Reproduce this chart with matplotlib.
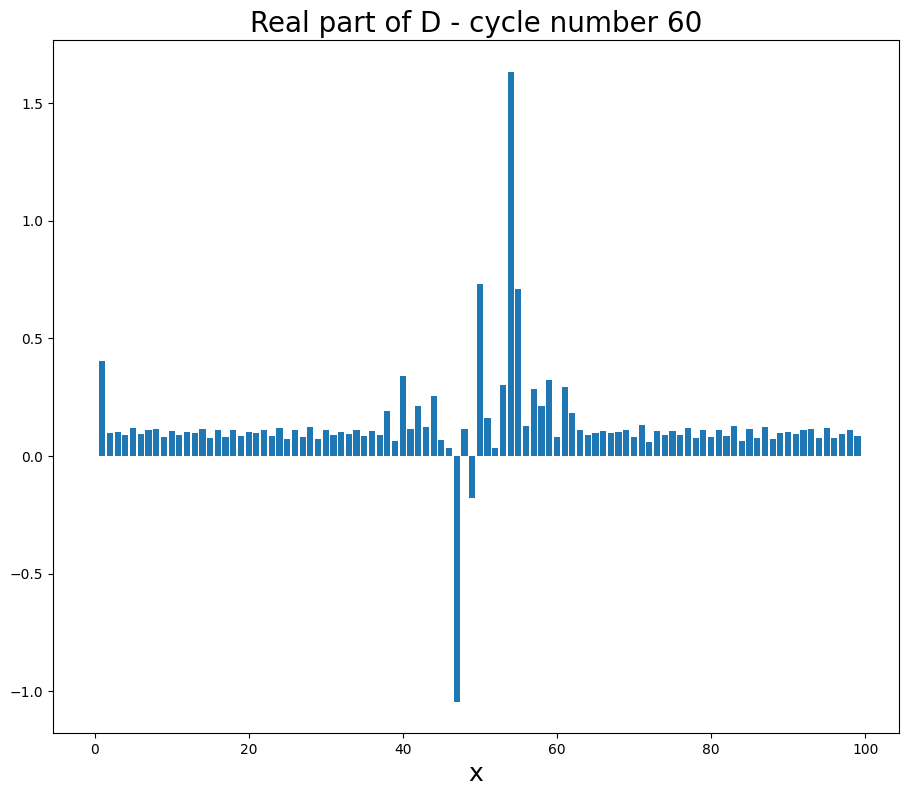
import numpy as np
import matplotlib
matplotlib.use("Agg")
import matplotlib.pyplot as plt

# indices 0..99 (index 0 is zero)
x = np.arange(0, 100)

# real part of D
d_real = [
    0.0,
    0.404, 0.098, 0.102, 0.089, 0.119, 0.094, 0.111, 0.113, 0.081, 0.106,
    0.089, 0.102, 0.098, 0.113, 0.077, 0.111, 0.081, 0.111, 0.085, 0.102,
    0.098, 0.111, 0.085, 0.119, 0.072, 0.111, 0.081, 0.123, 0.072, 0.111,
    0.089, 0.102, 0.094, 0.111, 0.085, 0.106, 0.089, 0.191, 0.064, 0.340,
    0.115, 0.213, 0.123, 0.255, 0.068, 0.034, -1.043, 0.115, -0.179, 0.732,
    0.162, 0.034, 0.302, 1.634, 0.711, 0.128, 0.285, 0.213, 0.323, 0.081,
    0.294, 0.183, 0.111, 0.089, 0.098, 0.106, 0.098, 0.102, 0.111, 0.081,
    0.132, 0.060, 0.106, 0.089, 0.106, 0.089, 0.119, 0.077, 0.111, 0.081,
    0.111, 0.085, 0.128, 0.064, 0.115, 0.077, 0.123, 0.072, 0.098, 0.102,
    0.094, 0.111, 0.115, 0.077, 0.119, 0.077, 0.094, 0.111, 0.085,
]

fig = plt.figure(figsize=(9.08, 7.96))
ax = fig.add_axes([53 / 908, 1 - 733 / 796, 846 / 908, 693 / 796])
ax.bar(x, d_real)
ax.set_title("Real part of D - cycle number 60", fontsize=20)
ax.set_xlabel("x", fontsize=18)

fig.savefig("out.png", dpi=100)
